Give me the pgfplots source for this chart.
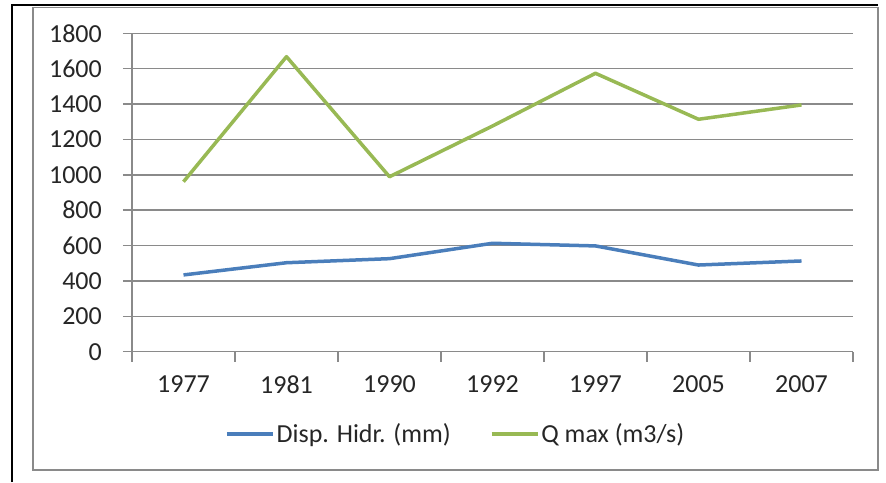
\documentclass[border=0pt]{standalone}
\usepackage{fontspec}
\setmainfont{Carlito}
\usepackage{pgfplots}
\pgfplotsset{compat=1.18}
\definecolor{serblue}{HTML}{4A7EBB}
\definecolor{sergreen}{HTML}{98B954}
\definecolor{gridgray}{HTML}{8A8A8A}

\begin{document}
\begin{tikzpicture}
\useasboundingbox (0pt,0pt) rectangle (886pt,-482pt);
% chart area and outer frame
\draw[gridgray, line width=1.5pt] (33pt,-7.5pt) rectangle (878pt,-470pt);
\draw[black, line width=2.5pt] (12pt,-482pt) -- (12pt,-5pt) -- (878pt,-5pt);
\begin{axis}[
    at={(132pt,-351.7pt)}, anchor=south west,
    scale only axis, width=721pt, height=318.4pt,
    xmin=-0.5, xmax=6.5, ymin=0, ymax=1800,
    ytick={0,200,...,1800},
    xtick={0,...,6},
    xticklabels={1977,1981,1990,1992,1997,2005,2007},
    minor xtick={-0.5,0.5,...,6.5},
    axis x line*=bottom, axis y line*=left,
    axis line style={gridgray, line width=1.5pt, -},
    tick align=outside,
    major tick length=9pt, minor tick length=10pt,
    every tick/.append style={gridgray, line width=1.5pt},
    major x tick style={draw=none},
    ymajorgrids, major grid style={gridgray, line width=1.5pt},
    tick label style={font=\fontsize{26}{30}\selectfont, text=black!85},
    /pgf/number format/assume math mode=true,
    /pgf/number format/1000 sep={},
    scaled ticks=false,
    yticklabel style={inner sep=0pt, xshift=-21pt},
    xticklabel style={inner sep=0pt, yshift=-15pt},
    legend style={at={(0.449,-0.2585)}, anchor=center, draw=none, fill=none,
        legend columns=2, font=\fontsize{26}{30}\selectfont, text=black!85,
        /tikz/every even column/.append style={column sep=37pt},
        nodes={inner sep=2pt}},
    legend image code/.code={\draw[#1] (0pt,0pt) -- (46pt,0pt);},
]
\addplot[serblue, line width=3.5pt, line join=round] coordinates {
    (0,434) (1,503) (2,526) (3,613) (4,598) (5,490) (6,513)};
\addplot[sergreen, line width=3.5pt, line join=round] coordinates {
    (0,961) (1,1668) (2,989) (3,1276) (4,1574) (5,1314) (6,1395)};
\legend{Disp. Hidr. (mm), Q max (m3/s)}
\end{axis}
\end{tikzpicture}
\end{document}
